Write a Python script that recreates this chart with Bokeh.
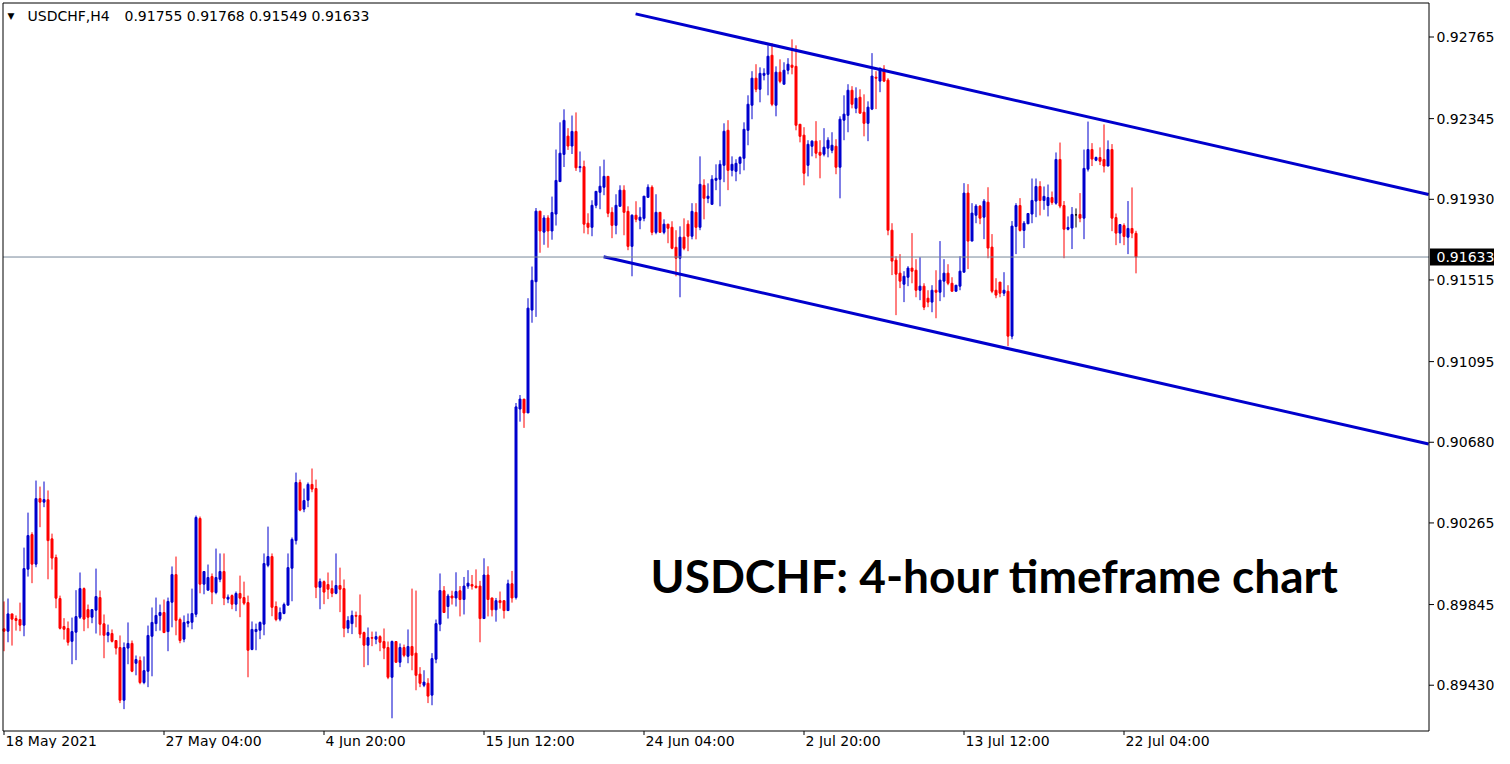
from bokeh.plotting import figure
from bokeh.models import Range1d, Label, ColumnDataSource
from bokeh.core.properties import value
from bokeh.embed import file_html
from bokeh.resources import INLINE

# ---------------- data (USDCHF H4, bar index 0 = 18 May 2021) ----------------
opens = [
    0.89720, 0.89708, 0.89797, 0.89773, 0.89768, 0.89739, 0.90027, 0.90205, 0.90053, 0.90390,
    0.90372, 0.90384, 0.90183, 0.90087, 0.89876, 0.89732, 0.89722, 0.89656, 0.89703, 0.89780,
    0.89927, 0.89819, 0.89780, 0.89816, 0.89881, 0.89746, 0.89687, 0.89696, 0.89660, 0.89624,
    0.89353, 0.89621, 0.89645, 0.89543, 0.89557, 0.89444, 0.89502, 0.89682, 0.89747, 0.89789,
    0.89804, 0.89706, 0.89857, 0.89999, 0.89768, 0.89667, 0.89749, 0.89754, 0.89795, 0.90288,
    0.89950, 0.89919, 0.89989, 0.89907, 0.89975, 0.90015, 0.89873, 0.89891, 0.89847, 0.89902,
    0.89881, 0.89855, 0.89614, 0.89706, 0.89713, 0.89744, 0.90047, 0.90092, 0.89835, 0.89770,
    0.89799, 0.89842, 0.90032, 0.90174, 0.90473, 0.90336, 0.90382, 0.90463, 0.90442, 0.89934,
    0.89963, 0.89948, 0.89927, 0.89903, 0.89943, 0.89927, 0.89723, 0.89747, 0.89789, 0.89789,
    0.89701, 0.89636, 0.89675, 0.89667, 0.89680, 0.89655, 0.89624, 0.89471, 0.89655, 0.89548,
    0.89624, 0.89579, 0.89629, 0.89595, 0.89487, 0.89430, 0.89440, 0.89379, 0.89564, 0.89744,
    0.89916, 0.89835, 0.89889, 0.89879, 0.89916, 0.89871, 0.89940, 0.89948, 0.89940, 0.89940,
    0.89773, 0.89997, 0.89879, 0.89818, 0.89865, 0.89865, 0.89814, 0.89952, 0.89881, 0.90851,
    0.90902, 0.90831, 0.91360, 0.91506, 0.91869, 0.91761, 0.91834, 0.91767, 0.91854, 0.92021,
    0.92161, 0.92255, 0.92204, 0.92279, 0.92093, 0.92098, 0.91807, 0.91786, 0.91899, 0.91966,
    0.91992, 0.92048, 0.91863, 0.91796, 0.91894, 0.91977, 0.91868, 0.91688, 0.91848, 0.91822,
    0.91832, 0.91940, 0.91992, 0.91760, 0.91863, 0.91760, 0.91802, 0.91786, 0.91683, 0.91627,
    0.91735, 0.91802, 0.91740, 0.91863, 0.91786, 0.92002, 0.91935, 0.91904, 0.92028, 0.92033,
    0.92105, 0.92285, 0.92079, 0.92074, 0.92115, 0.92141, 0.92285, 0.92414, 0.92553, 0.92496,
    0.92568, 0.92573, 0.92671, 0.92414, 0.92584, 0.92522, 0.92594, 0.92620, 0.92614, 0.92316,
    0.92260, 0.92105, 0.92203, 0.92229, 0.92172, 0.92162, 0.92193, 0.92182, 0.92203, 0.92095,
    0.92337, 0.92362, 0.92491, 0.92398, 0.92455, 0.92378, 0.92321, 0.92394, 0.92558, 0.92538,
    0.92600, 0.92543, 0.91771, 0.91617, 0.91550, 0.91493, 0.91529, 0.91576, 0.91565, 0.91462,
    0.91483, 0.91421, 0.91401, 0.91462, 0.91452, 0.91509, 0.91550, 0.91498, 0.91457, 0.91483,
    0.91555, 0.91962, 0.91715, 0.91848, 0.91895, 0.91838, 0.91915, 0.91684, 0.91462, 0.91504,
    0.91447, 0.91457, 0.91226, 0.91790, 0.91898, 0.91770, 0.91804, 0.91854, 0.91921, 0.91996,
    0.91924, 0.91898, 0.91939, 0.91910, 0.92135, 0.91898, 0.91776, 0.91782, 0.91850, 0.91852,
    0.91833, 0.92085, 0.92186, 0.92131, 0.92145, 0.92135, 0.92101, 0.92186, 0.91836, 0.91756,
    0.91795, 0.91735, 0.91780, 0.91755,
]
highs = [
    0.89861, 0.89876, 0.89797, 0.89789, 0.89855, 0.90138, 0.90318, 0.90217, 0.90483, 0.90452,
    0.90478, 0.90432, 0.90210, 0.90102, 0.89891, 0.89775, 0.89758, 0.89778, 0.89919, 0.90010,
    0.89933, 0.89845, 0.89819, 0.90030, 0.89917, 0.89794, 0.89742, 0.89717, 0.89660, 0.89686,
    0.89650, 0.89753, 0.89660, 0.89583, 0.89578, 0.89578, 0.89737, 0.89830, 0.89881, 0.89845,
    0.89871, 0.89881, 0.90041, 0.90092, 0.89778, 0.89789, 0.89799, 0.89927, 0.90303, 0.90298,
    0.90015, 0.90051, 0.90005, 0.90133, 0.90108, 0.90108, 0.89897, 0.89897, 0.89912, 0.89994,
    0.89963, 0.89891, 0.89758, 0.89747, 0.89758, 0.90108, 0.90246, 0.90108, 0.89861, 0.89830,
    0.89855, 0.90108, 0.90190, 0.90524, 0.90488, 0.90442, 0.90473, 0.90545, 0.90488, 0.89979,
    0.89969, 0.90010, 0.89969, 0.90108, 0.90035, 0.89974, 0.89785, 0.89814, 0.89809, 0.89897,
    0.89706, 0.89727, 0.89706, 0.89706, 0.89687, 0.89722, 0.89655, 0.89660, 0.89655, 0.89645,
    0.89639, 0.89717, 0.89927, 0.89917, 0.89523, 0.89507, 0.89466, 0.89595, 0.89768, 0.90005,
    0.89940, 0.89900, 0.89916, 0.90011, 0.89940, 0.89987, 0.90022, 0.89997, 0.90026, 0.89967,
    0.90083, 0.90042, 0.89879, 0.89879, 0.89912, 0.89865, 0.89973, 0.90018, 0.90882, 0.90923,
    0.90902, 0.91421, 0.91584, 0.91885, 0.91869, 0.91848, 0.91848, 0.91944, 0.92186, 0.92326,
    0.92393, 0.92296, 0.92361, 0.92377, 0.92176, 0.92129, 0.91858, 0.91925, 0.91971, 0.92100,
    0.92134, 0.92048, 0.91889, 0.91956, 0.92002, 0.92002, 0.91894, 0.91853, 0.91920, 0.91889,
    0.91946, 0.92007, 0.92002, 0.91956, 0.91863, 0.91827, 0.91802, 0.91817, 0.91771, 0.91791,
    0.91832, 0.91822, 0.91910, 0.91910, 0.92151, 0.92033, 0.92012, 0.92054, 0.92110, 0.92131,
    0.92321, 0.92337, 0.92151, 0.92136, 0.92151, 0.92326, 0.92465, 0.92589, 0.92625, 0.92609,
    0.92604, 0.92722, 0.92733, 0.92614, 0.92650, 0.92635, 0.92656, 0.92753, 0.92722, 0.92316,
    0.92301, 0.92234, 0.92234, 0.92332, 0.92234, 0.92296, 0.92249, 0.92275, 0.92239, 0.92357,
    0.92465, 0.92522, 0.92512, 0.92506, 0.92496, 0.92470, 0.92434, 0.92682, 0.92589, 0.92605,
    0.92620, 0.92553, 0.91807, 0.91637, 0.91648, 0.91560, 0.91586, 0.91756, 0.91622, 0.91632,
    0.91498, 0.91462, 0.91488, 0.91565, 0.91715, 0.91622, 0.91596, 0.91529, 0.91488, 0.91637,
    0.92013, 0.92008, 0.91910, 0.91905, 0.91900, 0.91931, 0.91992, 0.91751, 0.91524, 0.91504,
    0.91555, 0.91488, 0.91818, 0.91910, 0.91936, 0.91818, 0.91859, 0.92037, 0.92037, 0.92023,
    0.91996, 0.92006, 0.91970, 0.92171, 0.92222, 0.91921, 0.91842, 0.91890, 0.91883, 0.91962,
    0.92186, 0.92330, 0.92219, 0.92150, 0.92197, 0.92315, 0.92233, 0.92214, 0.91857, 0.91800,
    0.91806, 0.91921, 0.91991, 0.91768,
]
lows = [
    0.89605, 0.89651, 0.89634, 0.89711, 0.89708, 0.89682, 0.89989, 0.89955, 0.90037, 0.90243,
    0.90346, 0.89975, 0.90025, 0.89826, 0.89717, 0.89665, 0.89634, 0.89538, 0.89559, 0.89771,
    0.89708, 0.89723, 0.89749, 0.89696, 0.89686, 0.89569, 0.89651, 0.89650, 0.89588, 0.89338,
    0.89307, 0.89538, 0.89497, 0.89481, 0.89435, 0.89435, 0.89420, 0.89476, 0.89708, 0.89711,
    0.89698, 0.89605, 0.89728, 0.89687, 0.89646, 0.89651, 0.89728, 0.89718, 0.89780, 0.89903,
    0.89898, 0.89919, 0.89847, 0.89898, 0.89960, 0.89842, 0.89852, 0.89821, 0.89811, 0.89780,
    0.89842, 0.89471, 0.89610, 0.89610, 0.89667, 0.89687, 0.90037, 0.89785, 0.89759, 0.89759,
    0.89795, 0.89842, 0.89862, 0.90154, 0.90325, 0.90320, 0.90346, 0.90423, 0.89878, 0.89821,
    0.89847, 0.89873, 0.89883, 0.89898, 0.89806, 0.89677, 0.89698, 0.89693, 0.89728, 0.89672,
    0.89523, 0.89533, 0.89631, 0.89641, 0.89605, 0.89564, 0.89461, 0.89260, 0.89548, 0.89523,
    0.89574, 0.89543, 0.89507, 0.89404, 0.89420, 0.89420, 0.89338, 0.89327, 0.89543, 0.89708,
    0.89804, 0.89773, 0.89845, 0.89835, 0.89784, 0.89794, 0.89926, 0.89922, 0.89928, 0.89651,
    0.89773, 0.89784, 0.89784, 0.89757, 0.89824, 0.89773, 0.89814, 0.89855, 0.89871, 0.90786,
    0.90754, 0.90831, 0.91295, 0.91325, 0.91655, 0.91696, 0.91681, 0.91722, 0.91795, 0.92021,
    0.92096, 0.92184, 0.92163, 0.92076, 0.92069, 0.91755, 0.91750, 0.91740, 0.91884, 0.91879,
    0.91951, 0.91838, 0.91730, 0.91750, 0.91894, 0.91745, 0.91668, 0.91534, 0.91812, 0.91776,
    0.91817, 0.91940, 0.91745, 0.91750, 0.91760, 0.91750, 0.91704, 0.91673, 0.91534, 0.91426,
    0.91668, 0.91663, 0.91724, 0.91724, 0.91771, 0.91827, 0.91910, 0.91904, 0.91977, 0.91894,
    0.92018, 0.91977, 0.92048, 0.92023, 0.92059, 0.92079, 0.92208, 0.92342, 0.92481, 0.92429,
    0.92542, 0.92465, 0.92409, 0.92357, 0.92527, 0.92522, 0.92573, 0.92573, 0.92285, 0.92223,
    0.92002, 0.92048, 0.92151, 0.92141, 0.92038, 0.92151, 0.92146, 0.92167, 0.92059, 0.91935,
    0.92234, 0.92275, 0.92398, 0.92373, 0.92373, 0.92254, 0.92229, 0.92389, 0.92394, 0.92481,
    0.92533, 0.91745, 0.91540, 0.91334, 0.91473, 0.91401, 0.91483, 0.91498, 0.91426, 0.91411,
    0.91360, 0.91375, 0.91349, 0.91318, 0.91406, 0.91426, 0.91488, 0.91457, 0.91457, 0.91462,
    0.91555, 0.91571, 0.91715, 0.91807, 0.91802, 0.91725, 0.91627, 0.91447, 0.91421, 0.91426,
    0.91432, 0.91174, 0.91210, 0.91648, 0.91764, 0.91679, 0.91804, 0.91807, 0.91838, 0.91847,
    0.91876, 0.91842, 0.91902, 0.91902, 0.91884, 0.91627, 0.91770, 0.91674, 0.91785, 0.91812,
    0.91725, 0.92073, 0.92101, 0.92126, 0.92106, 0.92068, 0.92101, 0.91766, 0.91694, 0.91704,
    0.91694, 0.91648, 0.91730, 0.91549,
]
closes = [
    0.89708, 0.89797, 0.89770, 0.89763, 0.89739, 0.90030, 0.90200, 0.90053, 0.90390, 0.90372,
    0.90385, 0.90174, 0.90084, 0.89878, 0.89723, 0.89718, 0.89651, 0.89706, 0.89783, 0.89927,
    0.89770, 0.89780, 0.89819, 0.89886, 0.89744, 0.89687, 0.89701, 0.89656, 0.89621, 0.89353,
    0.89624, 0.89645, 0.89502, 0.89562, 0.89444, 0.89505, 0.89686, 0.89753, 0.89789, 0.89804,
    0.89701, 0.89861, 0.89999, 0.89764, 0.89660, 0.89753, 0.89758, 0.89799, 0.90293, 0.89950,
    0.90015, 0.89984, 0.89909, 0.89984, 0.90015, 0.89878, 0.89883, 0.89847, 0.89902, 0.89878,
    0.89852, 0.89610, 0.89717, 0.89717, 0.89753, 0.90056, 0.90092, 0.89831, 0.89768, 0.89804,
    0.89845, 0.90035, 0.90180, 0.90473, 0.90331, 0.90380, 0.90463, 0.90439, 0.89934, 0.89963,
    0.89909, 0.89924, 0.89903, 0.89943, 0.89924, 0.89723, 0.89763, 0.89789, 0.89785, 0.89693,
    0.89636, 0.89675, 0.89672, 0.89680, 0.89651, 0.89621, 0.89471, 0.89655, 0.89548, 0.89624,
    0.89584, 0.89629, 0.89584, 0.89481, 0.89440, 0.89446, 0.89374, 0.89567, 0.89747, 0.89917,
    0.89804, 0.89889, 0.89879, 0.89912, 0.89871, 0.89940, 0.89955, 0.89940, 0.89932, 0.89773,
    0.89997, 0.89871, 0.89818, 0.89865, 0.89855, 0.89814, 0.89952, 0.89879, 0.90862, 0.90902,
    0.90831, 0.91370, 0.91513, 0.91869, 0.91767, 0.91834, 0.91767, 0.91862, 0.92027, 0.92167,
    0.92336, 0.92204, 0.92279, 0.92092, 0.92098, 0.91802, 0.91786, 0.91899, 0.91971, 0.91997,
    0.92048, 0.91858, 0.91796, 0.91899, 0.91977, 0.91863, 0.91688, 0.91848, 0.91827, 0.91838,
    0.91946, 0.91992, 0.91760, 0.91863, 0.91760, 0.91802, 0.91781, 0.91678, 0.91627, 0.91735,
    0.91678, 0.91740, 0.91868, 0.91786, 0.92007, 0.91935, 0.91946, 0.92033, 0.92038, 0.92110,
    0.92280, 0.92079, 0.92110, 0.92115, 0.92146, 0.92290, 0.92419, 0.92553, 0.92496, 0.92578,
    0.92578, 0.92666, 0.92419, 0.92584, 0.92537, 0.92594, 0.92625, 0.92609, 0.92311, 0.92254,
    0.92064, 0.92213, 0.92229, 0.92167, 0.92157, 0.92198, 0.92234, 0.92208, 0.92095, 0.92342,
    0.92368, 0.92491, 0.92419, 0.92450, 0.92373, 0.92321, 0.92404, 0.92564, 0.92553, 0.92605,
    0.92538, 0.91771, 0.91612, 0.91545, 0.91509, 0.91534, 0.91576, 0.91560, 0.91462, 0.91483,
    0.91375, 0.91401, 0.91462, 0.91452, 0.91514, 0.91550, 0.91498, 0.91457, 0.91488, 0.91560,
    0.91962, 0.91715, 0.91859, 0.91895, 0.91833, 0.91920, 0.91679, 0.91457, 0.91437, 0.91447,
    0.91462, 0.91226, 0.91792, 0.91898, 0.91770, 0.91807, 0.91857, 0.91924, 0.91996, 0.91924,
    0.91945, 0.91939, 0.91914, 0.92135, 0.91895, 0.91776, 0.91785, 0.91852, 0.91850, 0.91833,
    0.92089, 0.92186, 0.92137, 0.92145, 0.92126, 0.92101, 0.92186, 0.91833, 0.91756, 0.91800,
    0.91739, 0.91780, 0.91756, 0.91633,
]

symbol_name = "USDCHF,H4"
headline = "USDCHF: 4-hour timeframe chart"
date_tick_bars = [0, 40, 80, 120, 160, 200, 240, 280]
date_tick_labels = ["18 May 2021", "27 May 04:00", "4 Jun 20:00", "15 Jun 12:00",
                    "24 Jun 04:00", "2 Jul 20:00", "13 Jul 12:00", "22 Jul 04:00"]
price_ticks = [0.92765, 0.92345, 0.91930, 0.91515, 0.91095, 0.90680, 0.90265, 0.89845, 0.89430]

# channel lines drawn on the chart (bar index, price)
upper_channel_x = [157.9, 356.17]
upper_channel_y = [0.92884, 0.91955]
lower_channel_x = [149.9, 356.17]
lower_channel_y = [0.91634, 0.90671]

# ---------------- styling / layout ----------------
BULL = "#0000CD"
BEAR = "#FF0000"
DOJI = "#000000"
AXIS_FONT = "DejaVu Sans"
W, H = 1494, 748
BAR_PX = 4.0
X0 = -0.875                      # bar index at the left canvas edge
Y_TOP = 0.9295279                # price at the top canvas edge
Y_BOT = 0.8910446                # price at the bottom canvas edge
PPX = (Y_TOP - Y_BOT) / H        # price per pixel


def bx(px):
    """canvas pixel x -> bar index"""
    return X0 + px / BAR_PX


def py(px):
    """canvas pixel y (from top) -> price"""
    return Y_TOP - px * PPX


# chart frame (pixels) like the MT4 window
F_LEFT, F_RIGHT, F_TOP, F_BOTTOM = 2.5, 1428.5, 2.5, 730.5

n = len(opens)
src = ColumnDataSource(dict(
    x=list(range(n)),
    high=highs,
    low=lows,
    top=[max(o, c) for o, c in zip(opens, closes)],
    bottom=[min(o, c) for o, c in zip(opens, closes)],
    color=[BULL if c > o else (BEAR if c < o else DOJI) for o, c in zip(opens, closes)],
))

p = figure(width=W, height=H, x_range=Range1d(X0, bx(W)), y_range=Range1d(Y_BOT, Y_TOP),
           x_axis_location=None, y_axis_location=None,
           output_backend="svg", toolbar_location=None, min_border=0)
p.background_fill_color = "white"
p.border_fill_color = "white"
p.outline_line_color = None
p.xgrid.visible = False
p.ygrid.visible = False

# candles
p.segment(x0="x", y0="low", x1="x", y1="high", line_color="color", line_width=1, source=src)
p.vbar(x="x", width=0.5, top="top", bottom="bottom", fill_color="color",
       line_color="color", line_width=1, source=src)

# channel
p.line(upper_channel_x, upper_channel_y, line_color=BULL, line_width=3)
p.line(lower_channel_x, lower_channel_y, line_color=BULL, line_width=3)

# current price line
last_close = closes[-1]
p.segment(x0=[bx(F_LEFT)], y0=[last_close], x1=[bx(F_RIGHT)], y1=[last_close],
          line_color="#778899", line_width=1)

# frame of the chart window
p.line([bx(F_LEFT), bx(F_RIGHT), bx(F_RIGHT), bx(F_LEFT), bx(F_LEFT)],
       [py(F_TOP), py(F_TOP), py(F_BOTTOM), py(F_BOTTOM), py(F_TOP)],
       line_color="black", line_width=1)

# price scale (right)
p.segment(x0=[bx(F_RIGHT)] * len(price_ticks), y0=price_ticks,
          x1=[bx(F_RIGHT + 5)] * len(price_ticks), y1=price_ticks,
          line_color="black", line_width=1)
p.text(x=[bx(1436)] * len(price_ticks), y=price_ticks,
       text=[f"{t:.5f}" for t in price_ticks],
       text_font=value(AXIS_FONT), text_font_size=value("14px"), text_color="black",
       text_align="left", text_baseline="middle")

# current price box
box_half = 8.5 * PPX
p.quad(left=[bx(F_RIGHT + 1)], right=[bx(W)], top=[last_close + box_half],
       bottom=[last_close - box_half], fill_color="black", line_color=None)
p.text(x=[bx(1436)], y=[last_close], text=[f"{last_close:.5f}"],
       text_font=value(AXIS_FONT), text_font_size=value("14px"), text_color="white",
       text_align="left", text_baseline="middle")

# time scale (bottom)
p.segment(x0=date_tick_bars, y0=[py(F_BOTTOM)] * len(date_tick_bars),
          x1=date_tick_bars, y1=[py(F_BOTTOM + 4)] * len(date_tick_bars),
          line_color="black", line_width=1)
p.text(x=[b + 0.4 for b in date_tick_bars], y=[py(F_BOTTOM + 2)] * len(date_tick_bars),
       text=date_tick_labels,
       text_font=value(AXIS_FONT), text_font_size=value("14px"), text_color="black",
       text_align="left", text_baseline="top")

# header
p.add_layout(Label(x=7, y=H - 15, x_units="screen", y_units="screen", text="\u25BC",
                   text_font=AXIS_FONT, text_font_size="9px", text_baseline="middle",
                   text_color="black"))
p.add_layout(Label(x=27, y=H - 15, x_units="screen", y_units="screen", text=symbol_name,
                   text_font=AXIS_FONT, text_font_size="14px", text_baseline="middle",
                   text_color="black"))
ohlc_text = " ".join(f"{v:.5f}" for v in (opens[-1], highs[-1], lows[-1], closes[-1]))
p.add_layout(Label(x=124, y=H - 15, x_units="screen", y_units="screen", text=ohlc_text,
                   text_font=AXIS_FONT, text_font_size="14px", text_baseline="middle",
                   text_color="black"))

p.add_layout(Label(x=650, y=H - 575, x_units="screen", y_units="screen", text=headline,
                   text_font="Lato", text_font_style="bold", text_font_size="46px",
                   text_baseline="alphabetic", text_color="black"))

open("out.html", "w").write(file_html(p, INLINE))
